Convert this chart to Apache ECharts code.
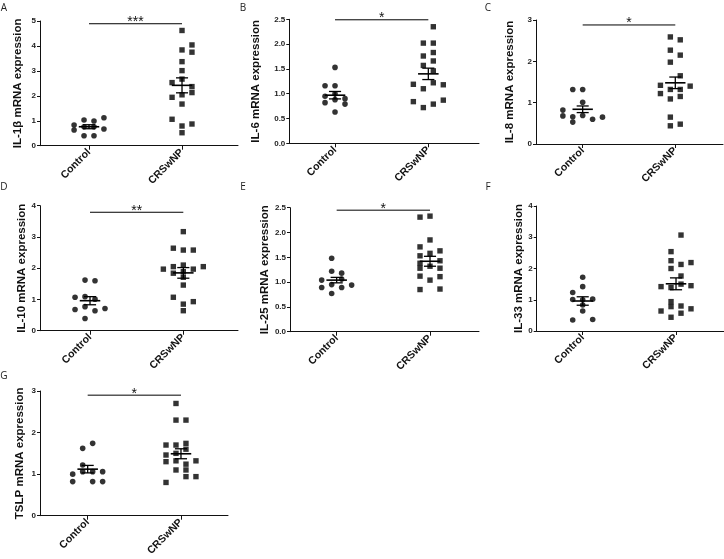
<!DOCTYPE html>
<html><head><meta charset="utf-8">
<script src="https://cdn.jsdelivr.net/npm/echarts@6/dist/echarts.min.js"></script>
<style>html,body{margin:0;padding:0;background:#fff}#c{width:724px;height:559px}</style>
</head><body><div id="c"></div>
<script>
// ---------- DATA ----------
const groups = ['Control', 'CRSwNP'];
const panelLetters = ['A', 'B', 'C', 'D', 'E', 'F', 'G'];
const yNames = ['IL-1β mRNA expression', 'IL-6 mRNA expression', 'IL-8 mRNA expression',
  'IL-10 mRNA expression', 'IL-25 mRNA expression', 'IL-33 mRNA expression', 'TSLP mRNA expression'];
const yMax = [5, 2.5, 3, 4, 2.5, 4, 3];
const yStep = [1, 0.5, 1, 1, 0.5, 1, 1];
const yDecimals = [0, 1, 0, 0, 1, 0, 0];
const sigLevel = [4.89, 2.49, 2.88, 3.79, 2.45, null, 2.90];
const sigMark = ['***', '*', '*', '**', '*', '', '*'];

// values and jitter column (in point-widths) per group
const il1bCtrl = [0.83, 0.63, 1.03, 0.99, 1.12, 0.40, 0.40, 0.67, 0.76, 0.76];
const il1bCtrlCol = [-1.5, -1.5, -0.5, 0.5, 1.5, -0.5, 0.5, 1.5, -0.5, 0.5];
const il1bCrs = [4.62, 4.04, 3.84, 3.75, 3.37, 3.01, 2.67, 2.53, 2.37, 2.13, 1.94, 2.04, 1.67, 1.06, 0.87, 0.79, 0.52];
const il1bCrsCol = [0, 1, 0, 1, 0, 0, 0, -1, 1, 1, -1, 0, 0, -1, 1, 0, 0];

const il6Ctrl = [1.53, 1.16, 1.16, 1.00, 0.82, 0.88, 0.90, 0.79, 0.63, 0.95];
const il6CtrlCol = [0, -1, 0, 0, -1, 0, 1, 1, 0, -1];
const il6Crs = [2.35, 2.02, 2.02, 1.76, 1.83, 1.57, 1.66, 1.46, 1.19, 1.18, 1.10, 1.22, 0.84, 0.87, 0.72, 0.79];
const il6CrsCol = [0.5, -0.5, 0.5, -0.5, 0.5, -0.5, 0.5, 0.5, -1.5, 1.5, -0.5, 0.5, -1.5, 1.5, -0.5, 0.5];

const il8Ctrl = [1.32, 1.32, 0.82, 1.01, 0.68, 0.66, 0.69, 0.53, 0.60, 0.65];
const il8CtrlCol = [-1, 0, -2, 0, -2, -1, 0, -1, 1, 2];
const il8Crs = [2.59, 2.52, 2.27, 2.15, 1.98, 1.65, 1.42, 1.22, 1.32, 1.32, 1.40, 1.09, 1.15, 0.65, 0.44, 0.48];
const il8CrsCol = [-0.5, 0.5, -0.5, 0.5, -0.5, 0.5, -1.5, -1.5, -0.5, 0.5, 1.5, -0.5, 0.5, -0.5, -0.5, 0.5];

const il10Ctrl = [1.62, 1.60, 1.07, 1.09, 1.01, 0.68, 0.77, 0.64, 0.71, 0.39];
const il10CtrlCol = [-0.5, 0.5, -1.5, -0.5, 0.5, -1.5, -0.5, 0.5, 1.5, -0.5];
const il10Crs = [3.17, 2.64, 2.58, 2.58, 1.97, 2.05, 2.10, 1.97, 2.05, 1.84, 1.89, 1.71, 1.46, 1.07, 0.85, 0.93, 0.64];
const il10CrsCol = [0, -1, 0, 1, -2, -1, 0, 1, 2, -1, 0, 0, 0, -1, 0, 1, 0];

const il25Ctrl = [1.48, 1.22, 1.18, 1.04, 0.89, 0.95, 0.89, 0.94, 0.77, 1.06];
const il25CtrlCol = [-0.5, -0.5, 0.5, -1.5, -1.5, -0.5, 0.5, 1.5, -0.5, 0.5];
const il25Crs = [2.31, 2.33, 1.85, 1.71, 1.63, 1.53, 1.58, 1.38, 1.43, 1.28, 1.32, 1.28, 1.12, 1.11, 1.04, 0.85, 0.86];
const il25CrsCol = [-1, 0, 0, -1, 1, -1, 0, -1, 1, -1, 0, 1, -1, 1, 0, -1, 1];

const il33Ctrl = [1.72, 1.42, 1.23, 1.01, 1.00, 1.02, 0.83, 0.64, 0.35, 0.37];
const il33CtrlCol = [0, 0, -1, -1, 0, 1, 0, 0, -1, 1];
const il33Crs = [3.07, 2.54, 2.25, 2.13, 2.19, 2.00, 1.76, 1.42, 1.39, 1.50, 1.45, 0.94, 0.64, 0.78, 0.80, 0.71, 0.57, 0.44];
const il33CrsCol = [0.5, -0.5, -0.5, 0.5, 1.5, -0.5, 0.5, -1.5, -0.5, 0.5, 1.5, -0.5, -1.5, -0.5, 0.5, 1.5, 0.5, -0.5];

const tslpCtrl = [1.62, 1.74, 1.22, 1.00, 0.82, 0.82, 0.82, 1.06, 1.06, 1.06];
const tslpCtrlCol = [-0.5, 0.5, -0.5, -1.5, -1.5, 0.5, 1.5, 1.5, 0.5, -0.5];
const tslpCrs = [2.70, 2.30, 2.30, 1.74, 1.70, 1.70, 1.60, 1.46, 1.50, 1.30, 1.32, 1.32, 1.24, 1.10, 1.10, 0.94, 0.94, 0.80];
const tslpCrsCol = [-0.5, -0.5, 0.5, 0.5, -1.5, -0.5, 0.5, -1.5, -0.5, -1.5, -0.5, 1.5, 0.5, -0.5, 0.5, 0.5, 1.5, -1.5];

const ctrlMean = [0.76, 0.97, 0.84, 0.96, 1.04, 0.96, 1.12];
const ctrlSem = [0.08, 0.075, 0.08, 0.13, 0.055, 0.135, 0.09];
const crsMean = [2.42, 1.40, 1.48, 1.85, 1.42, 1.51, 1.49];
const crsSem = [0.30, 0.115, 0.14, 0.17, 0.10, 0.19, 0.12];

const ctrlVals = [il1bCtrl, il6Ctrl, il8Ctrl, il10Ctrl, il25Ctrl, il33Ctrl, tslpCtrl];
const ctrlCols = [il1bCtrlCol, il6CtrlCol, il8CtrlCol, il10CtrlCol, il25CtrlCol, il33CtrlCol, tslpCtrlCol];
const crsVals = [il1bCrs, il6Crs, il8Crs, il10Crs, il25Crs, il33Crs, tslpCrs];
const crsCols = [il1bCrsCol, il6CrsCol, il8CrsCol, il10CrsCol, il25CrsCol, il33CrsCol, tslpCrsCol];

// ---------- LAYOUT ----------
const layout = [
  { left: 40, top: 21, width: 198, height: 124.7, xmin: 0.473, xmax: 2.602, nameGap: 16, letter: [4, 8] },
  { left: 289.3, top: 19.3, width: 189.7, height: 124, xmin: 0.510, xmax: 2.543, nameGap: 27, letter: [243, 8] },
  { left: 536, top: 20, width: 187, height: 124, xmin: 0.496, xmax: 2.515, nameGap: 20, letter: [488, 8] },
  { left: 40, top: 205.7, width: 198, height: 125, xmin: 0.464, xmax: 2.586, nameGap: 10, letter: [4, 187] },
  { left: 290, top: 207.7, width: 189, height: 124, xmin: 0.5, xmax: 2.525, nameGap: 15.5, letter: [243, 187] },
  { left: 536.7, top: 206, width: 187, height: 125, xmin: 0.507, xmax: 2.511, nameGap: 9.5, letter: [488, 187] },
  { left: 40, top: 391, width: 188, height: 124.7, xmin: 0.489, xmax: 2.504, nameGap: 14.5, letter: [4, 376] }
];
const jitterStep = 0.107;
const meanHalf = 0.11, capHalf = 0.065;
const INK = '#111';
const FONT = '"Liberation Sans", Arial, sans-serif';

const chart = echarts.init(document.getElementById('c'), null, { renderer: 'canvas' });
const grid = [], xAxis = [], yAxis = [], series = [], graphic = [];

layout.forEach((L, i) => {
  grid.push({ left: L.left, top: L.top, width: L.width, height: L.height, containLabel: false });
  xAxis.push({
    type: 'value', gridIndex: i, min: L.xmin, max: L.xmax,
    splitLine: { show: false },
    axisLine: { show: true, onZero: false, lineStyle: { color: INK, width: 1 } },
    axisTick: { show: true, customValues: [1, 2], length: 4, lineStyle: { color: INK, width: 1 } },
    axisLabel: {
      show: true, customValues: [1, 2], rotate: 45, margin: 5,
      formatter: v => groups[Math.round(v) - 1] || '',
      color: INK, fontFamily: FONT, fontWeight: 'bold', fontSize: 10.5
    }
  });
  yAxis.push({
    type: 'value', gridIndex: i, min: 0, max: yMax[i], interval: yStep[i],
    name: yNames[i], nameLocation: 'middle', nameGap: L.nameGap,
    nameTextStyle: { color: INK, fontFamily: FONT, fontWeight: 'bold', fontSize: 11.5 },
    splitLine: { show: false },
    axisLine: { show: true, lineStyle: { color: INK, width: 1 } },
    axisTick: { show: true, length: 3, lineStyle: { color: INK, width: 1 } },
    axisLabel: {
      margin: 4, color: '#222', fontFamily: FONT, fontWeight: 'bold', fontSize: 8,
      formatter: v => v.toFixed(yDecimals[i])
    }
  });
  series.push({
    type: 'scatter', xAxisIndex: i, yAxisIndex: i, symbol: 'circle', symbolSize: 5.6,
    itemStyle: { color: '#000' }, silent: true,
    data: ctrlVals[i].map((v, k) => [1 + ctrlCols[i][k] * jitterStep, v])
  });
  series.push({
    type: 'scatter', xAxisIndex: i, yAxisIndex: i, symbol: 'rect', symbolSize: 5.4,
    itemStyle: { color: '#000' }, silent: true,
    data: crsVals[i].map((v, k) => [2 + crsCols[i][k] * jitterStep, v])
  });
  series.push({
    type: 'custom', xAxisIndex: i, yAxisIndex: i, z: 5, silent: true, clip: false,
    encode: { x: 0, y: 1 },
    data: [[1, ctrlMean[i], ctrlSem[i]], [2, crsMean[i], crsSem[i]]],
    renderItem: (params, api) => {
      const x = api.value(0), m = api.value(1), s = api.value(2);
      const ml = api.coord([x - meanHalf, m]), mr = api.coord([x + meanHalf, m]);
      const tl = api.coord([x - capHalf, m + s]), tr = api.coord([x + capHalf, m + s]);
      const bl = api.coord([x - capHalf, m - s]), br = api.coord([x + capHalf, m - s]);
      const t = api.coord([x, m + s]), b = api.coord([x, m - s]);
      const st = { stroke: '#000', lineWidth: 1.3 };
      return {
        type: 'group', children: [
          { type: 'line', shape: { x1: ml[0], y1: ml[1], x2: mr[0], y2: mr[1] }, style: { stroke: '#000', lineWidth: 1.6 } },
          { type: 'line', shape: { x1: tl[0], y1: tl[1], x2: tr[0], y2: tr[1] }, style: st },
          { type: 'line', shape: { x1: bl[0], y1: bl[1], x2: br[0], y2: br[1] }, style: st },
          { type: 'line', shape: { x1: t[0], y1: t[1], x2: b[0], y2: b[1] }, style: st }
        ]
      };
    }
  });
  if (sigLevel[i] != null) {
    series.push({
      type: 'custom', xAxisIndex: i, yAxisIndex: i, z: 5, silent: true, clip: false,
      encode: { x: 0, y: 1 },
      data: [[1, sigLevel[i], 2]],
      renderItem: (params, api) => {
        const y = api.value(1);
        const p1 = api.coord([api.value(0), y]), p2 = api.coord([api.value(2), y]);
        return {
          type: 'group', children: [
            { type: 'line', shape: { x1: p1[0], y1: p1[1], x2: p2[0], y2: p2[1] }, style: { stroke: '#000', lineWidth: 1 } },
            { type: 'text', x: (p1[0] + p2[0]) / 2, y: p1[1] - 1.5,
              style: { text: sigMark[i], fill: '#111', font: '14px ' + FONT, align: 'center', verticalAlign: 'middle' } }
          ]
        };
      }
    });
  }
  graphic.push({
    type: 'text', x: L.letter[0], y: L.letter[1],
    style: { text: panelLetters[i], fill: '#222', font: '10px "Open Sans", sans-serif', align: 'center', verticalAlign: 'middle' }
  });
});

chart.setOption({ animation: false, grid, xAxis, yAxis, series, graphic });
</script></body></html>
